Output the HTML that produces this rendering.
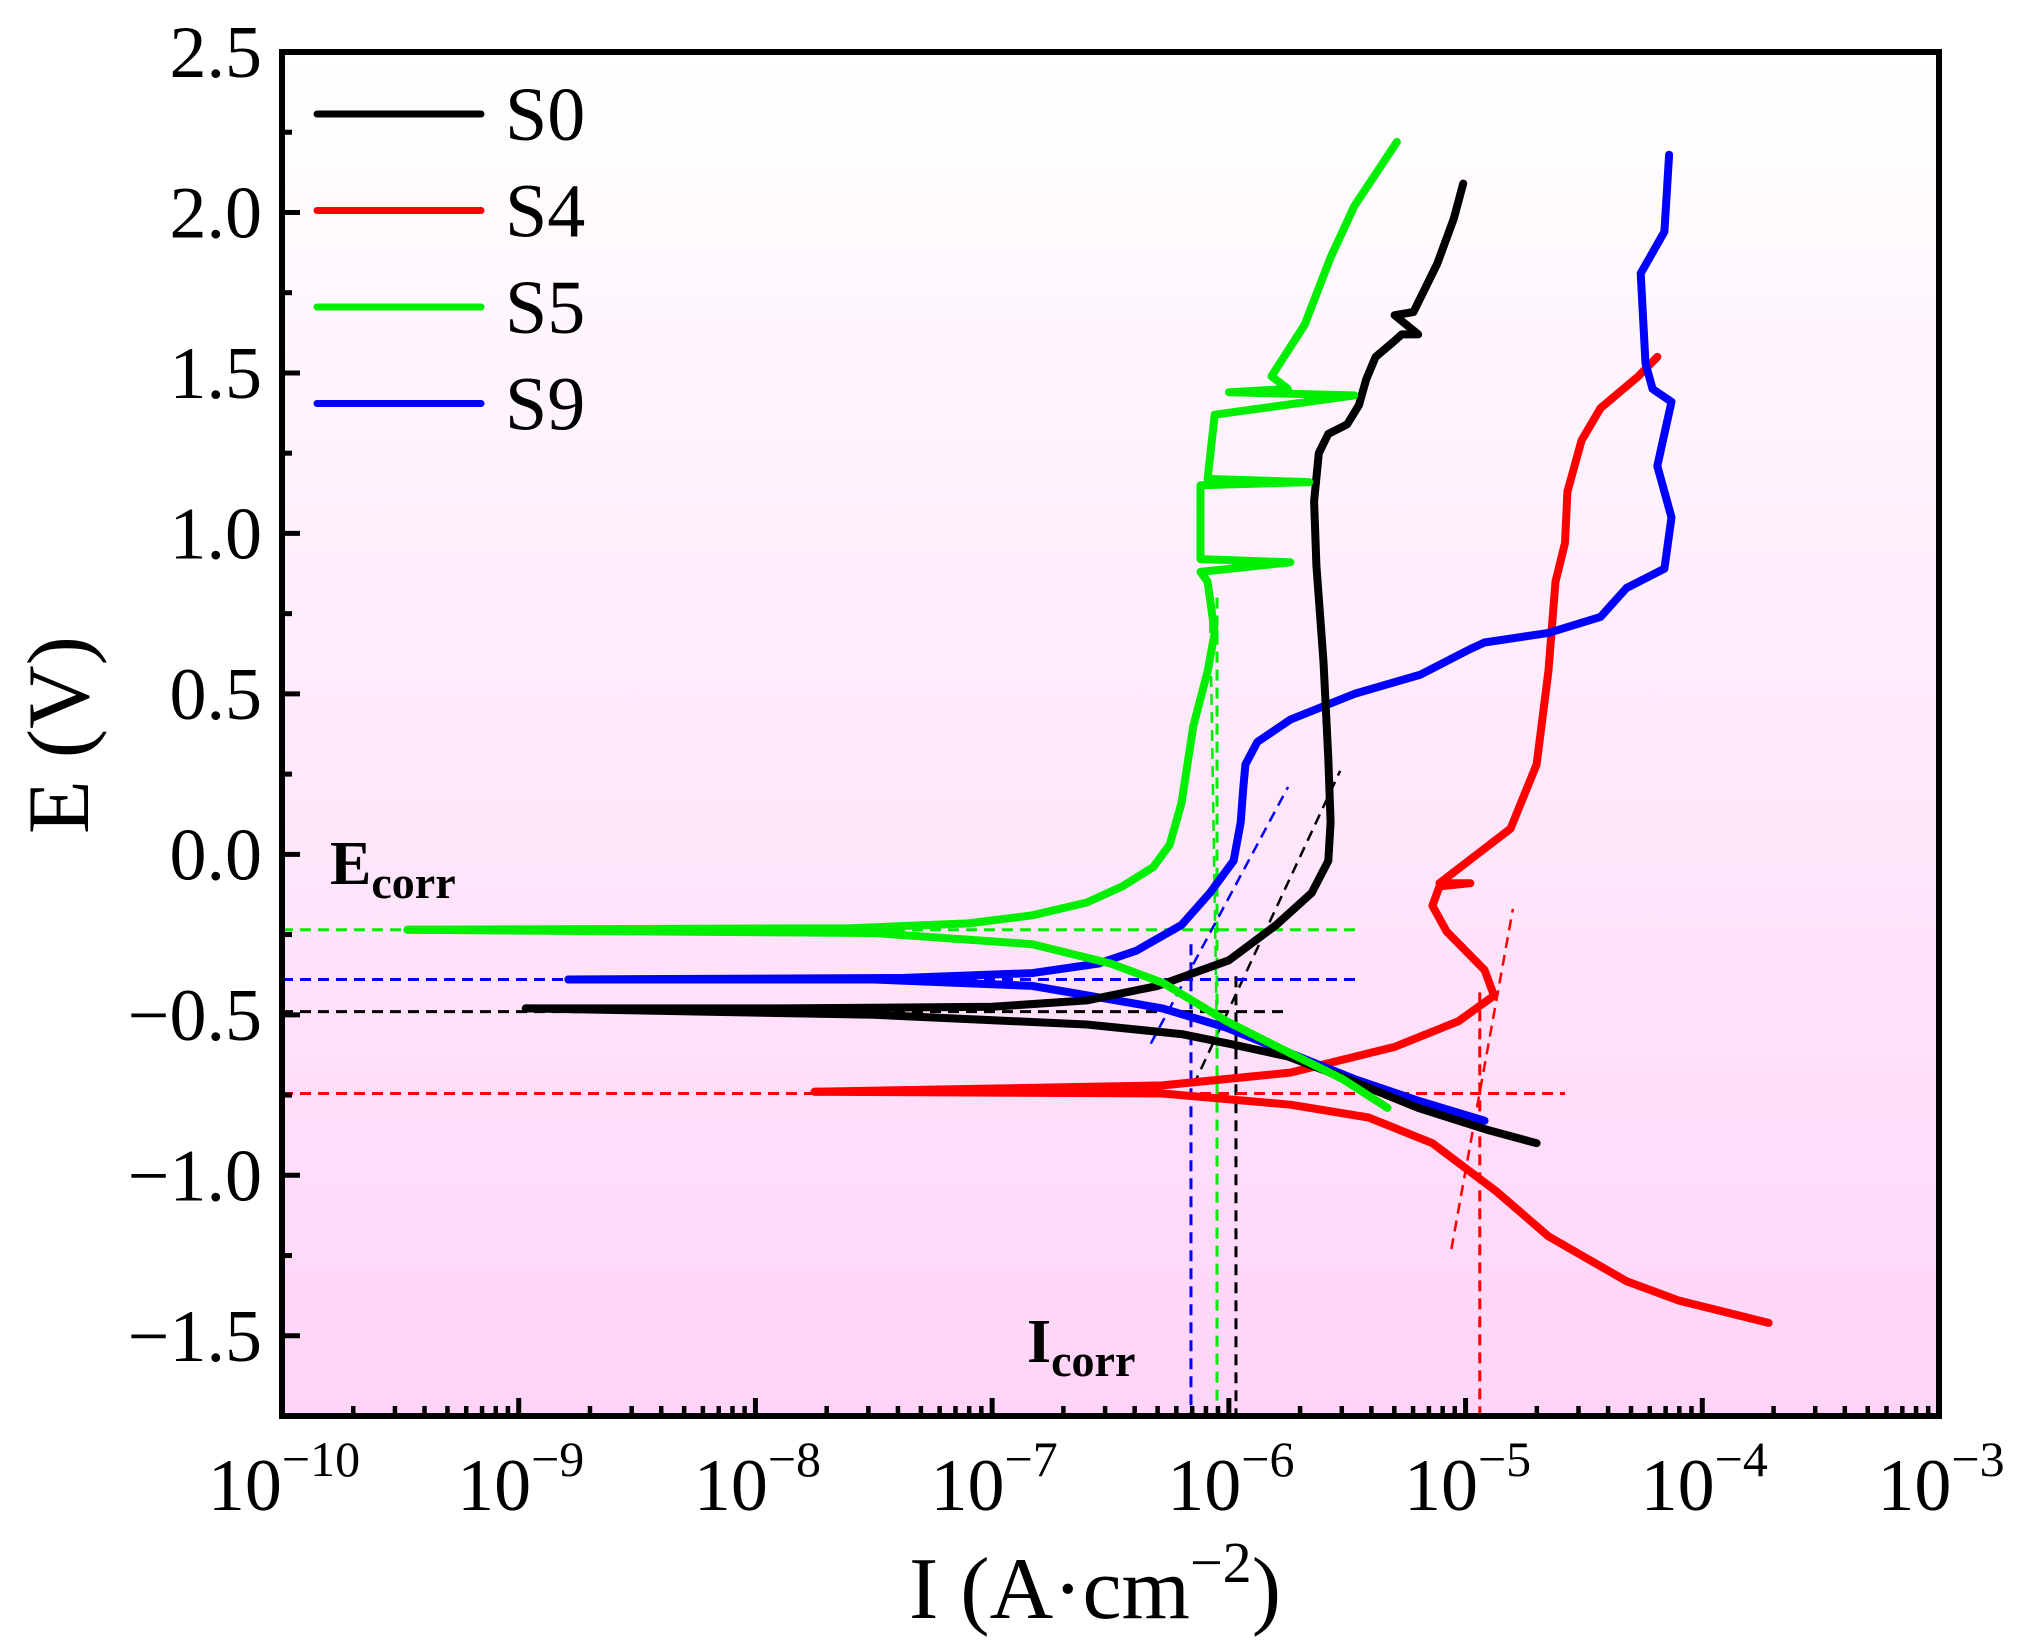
<!DOCTYPE html>
<html><head><meta charset="utf-8"><style>
html,body{margin:0;padding:0;background:#fff;}
svg{display:block;font-family:"Liberation Serif",serif;}
</style></head><body>
<svg id="chart" width="2025" height="1642" viewBox="0 0 2025 1642" xmlns="http://www.w3.org/2000/svg">
<defs><linearGradient id="bg" x1="0" y1="0" x2="0" y2="1"><stop offset="0" stop-color="#ffffff"/><stop offset="1" stop-color="#ffd4f8"/></linearGradient></defs>
<rect x="282" y="52" width="1657" height="1364" fill="url(#bg)"/>
<g id="series"></g>
<rect x="282" y="52" width="1657" height="1364" fill="none" stroke="#000" stroke-width="6"/>
<g id="ticks"></g>
<text transform="translate(88,735) rotate(-90)" text-anchor="middle" font-size="88">E (V)</text>
<text x="1095" y="1618" text-anchor="middle" font-size="88">I (A·cm<tspan font-size="58" dy="-36">−2</tspan><tspan dy="36">)</tspan></text>
<text x="330" y="884" font-size="62" font-weight="bold">E<tspan font-size="46" dy="14">corr</tspan></text>
<text x="1027" y="1362" font-size="62" font-weight="bold">I<tspan font-size="46" dy="14">corr</tspan></text>
<g id="legend"></g>
</svg>
<script>
const NS="http://www.w3.org/2000/svg";
const xTickExps=[-10,-9,-8,-7,-6,-5,-4,-3];
const yTickVals=[2.5,2.0,1.5,1.0,0.5,0.0,-0.5,-1.0,-1.5];
const yTickLabels=["2.5","2.0","1.5","1.0","0.5","0.0","\u22120.5","\u22121.0","\u22121.5"];
const seriesNames=["S0","S4","S5","S9"];
const seriesColors=["#000000","#ff0000","#00ee00","#0000ff"];
const s0AnodicLogI=[-8.97,-7.9,-7.0,-6.6,-6.3,-6.0,-5.8,-5.65,-5.58,-5.57,-5.58,-5.6,-5.63,-5.64,-5.62,-5.58,-5.5,-5.45,-5.42,-5.38,-5.3,-5.27,-5.2,-5.3,-5.22,-5.12,-5.05,-5.01];
const s0AnodicE=[-0.48,-0.48,-0.475,-0.455,-0.41,-0.33,-0.22,-0.12,-0.02,0.1,0.3,0.6,0.9,1.1,1.25,1.31,1.34,1.4,1.48,1.55,1.6,1.62,1.62,1.68,1.69,1.84,1.98,2.09];
const s0CathLogI=[-8.97,-7.5,-6.6,-6.2,-6.0,-5.75,-5.5,-5.2,-4.9,-4.7];
const s0CathE=[-0.48,-0.5,-0.53,-0.56,-0.59,-0.63,-0.7,-0.79,-0.86,-0.9];
const s4AnodicLogI=[-7.75,-6.28,-5.74,-5.3,-5.03,-4.88,-4.92,-5.08,-5.14,-5.11,-4.98,-5.11,-4.81,-4.7,-4.65,-4.62,-4.58,-4.57,-4.51,-4.43,-4.27,-4.19];
const s4AnodicE=[-0.74,-0.72,-0.68,-0.6,-0.52,-0.44,-0.36,-0.24,-0.16,-0.1,-0.09,-0.09,0.08,0.28,0.57,0.85,0.97,1.13,1.29,1.39,1.49,1.55];
const s4CathLogI=[-7.75,-6.28,-5.74,-5.41,-5.14,-4.87,-4.65,-4.32,-4.1,-3.72];
const s4CathE=[-0.74,-0.745,-0.78,-0.82,-0.9,-1.05,-1.19,-1.33,-1.39,-1.46];
const s5AnodicLogI=[-9.47,-7.6,-7.1,-6.83,-6.6,-6.45,-6.32,-6.25,-6.2,-6.15,-6.09,-6.06,-6.09,-6.12,-5.74,-6.12,-6.12,-5.66,-6.09,-6.06,-5.47,-6.0,-5.75,-5.82,-5.68,-5.57,-5.47,-5.29];
const s5AnodicE=[-0.235,-0.23,-0.215,-0.19,-0.15,-0.1,-0.04,0.03,0.16,0.4,0.57,0.69,0.85,0.88,0.91,0.92,1.15,1.16,1.17,1.37,1.43,1.44,1.45,1.49,1.65,1.86,2.02,2.22];
const s5CathLogI=[-9.47,-7.5,-6.83,-6.5,-6.28,-6.01,-5.74,-5.52,-5.33];
const s5CathE=[-0.235,-0.245,-0.28,-0.34,-0.4,-0.52,-0.62,-0.7,-0.79];
const s9AnodicLogI=[-8.79,-7.37,-6.83,-6.55,-6.39,-6.2,-6.08,-5.98,-5.95,-5.94,-5.93,-5.88,-5.8,-5.74,-5.47,-5.19,-4.98,-4.92,-4.65,-4.43,-4.32,-4.16,-4.13,-4.19,-4.13,-4.21,-4.24,-4.26,-4.16,-4.14];
const s9AnodicE=[-0.39,-0.385,-0.37,-0.34,-0.3,-0.22,-0.12,-0.02,0.1,0.2,0.28,0.35,0.39,0.42,0.5,0.56,0.64,0.66,0.69,0.74,0.83,0.89,1.05,1.21,1.41,1.45,1.53,1.81,1.94,2.18];
const s9CathLogI=[-8.79,-7.5,-6.83,-6.28,-6.01,-5.74,-5.47,-5.19,-4.92];
const s9CathE=[-0.39,-0.39,-0.41,-0.48,-0.54,-0.62,-0.7,-0.77,-0.83];
const ecorrE=[-0.49,-0.745,-0.235,-0.39];
const ecorrEndLogI=[-5.75,-4.58,-5.44,-5.45];
const icorrLogI=[-5.97,-4.94,-6.05,-6.16];
const icorrTopE=[-0.38,-0.43,0.8,-0.28];
const tafelLogI1=[-6.15,-5.06,-6.05,-6.33];
const tafelE1=[-0.72,-1.23,-0.6,-0.59];
const tafelLogI2=[-5.53,-4.8,-6.08,-5.75];
const tafelE2=[0.26,-0.17,0.8,0.21];

const X0=282,X1=1939,Y0=52,Y1=1416;
const xmin=-10,xmax=-3,ymin=-1.75,ymax=2.5;
function sx(l){return X0+(l-xmin)/(xmax-xmin)*(X1-X0);}
function sy(e){return Y0+(ymax-e)/(ymax-ymin)*(Y1-Y0);}
function mk(tag,attrs,parent){const el=document.createElementNS(NS,tag);for(const k in attrs)el.setAttribute(k,attrs[k]);parent.appendChild(el);return el;}
const series=document.getElementById('series'),ticks=document.getElementById('ticks'),legend=document.getElementById('legend');

for(let i=0;i<4;i++){
  let l=mk('line',{x1:X0,y1:sy(ecorrE[i]),x2:sx(ecorrEndLogI[i]),y2:sy(ecorrE[i]),stroke:seriesColors[i],'stroke-width':3,'stroke-dasharray':'11,7'},series);
  
  
  let v=mk('line',{x1:sx(icorrLogI[i]),y1:sy(icorrTopE[i]),x2:sx(icorrLogI[i]),y2:Y1,stroke:seriesColors[i],'stroke-width':3,'stroke-dasharray':'11,7'},series);
  
  
  let t=mk('line',{x1:sx(tafelLogI1[i]),y1:sy(tafelE1[i]),x2:sx(tafelLogI2[i]),y2:sy(tafelE2[i]),stroke:seriesColors[i],'stroke-width':2.5,'stroke-dasharray':'11,7'},series);
  
  
}
const branches=[[s0AnodicLogI,s0AnodicE,s0CathLogI,s0CathE],[s4AnodicLogI,s4AnodicE,s4CathLogI,s4CathE],[s5AnodicLogI,s5AnodicE,s5CathLogI,s5CathE],[s9AnodicLogI,s9AnodicE,s9CathLogI,s9CathE]];
const order=[1,3,0,2];
for(const i of order){
  const b=branches[i];
  for(let k=0;k<2;k++){
    const xs=b[k*2],ys=b[k*2+1];
    let d=xs.map((v,j)=>(j?'L':'M')+sx(v).toFixed(1)+','+sy(ys[j]).toFixed(1)).join(' ');
    let p=mk('path',{d:d,fill:'none',stroke:seriesColors[i],'stroke-width':8,'stroke-linejoin':'round','stroke-linecap':'round'},series);
    
    
  }
}
for(let v=-1.75;v<=2.5001;v+=0.25){
  const major=Math.abs(v*2-Math.round(v*2))<1e-6;
  mk('line',{x1:X0,y1:sy(v),x2:X0+(major?18:10),y2:sy(v),stroke:'#000','stroke-width':5},ticks);
}
yTickVals.forEach((v,i)=>{
  let t=mk('text',{x:262,y:sy(v)+25,'text-anchor':'end','font-size':74},ticks);
  t.textContent=yTickLabels[i];
  
  
});
xTickExps.forEach((e,i)=>{
  const x=sx(e);
  mk('line',{x1:x,y1:Y1,x2:x,y2:Y1-18,stroke:'#000','stroke-width':5},ticks);
  if(e<xmax){for(let m=2;m<=9;m++){const xm=sx(e+Math.log10(m));mk('line',{x1:xm,y1:Y1,x2:xm,y2:Y1-10,stroke:'#000','stroke-width':4.5},ticks);}}
  let t=mk('text',{x:x+2,y:1510,'text-anchor':'middle','font-size':74},ticks);
  
  
  t.appendChild(document.createTextNode('10'));
  let s=mk('tspan',{'font-size':50,dy:-34},t);
  s.textContent='\u2212'+Math.abs(e);
});
seriesNames.forEach((n,i)=>{
  const y=114+i*96.5;
  let l=mk('line',{x1:317,y1:y,x2:481,y2:y,stroke:seriesColors[i],'stroke-width':7,'stroke-linecap':'round'},legend);
  
  
  let t=mk('text',{x:505,y:y+26,'font-size':76},legend);
  t.textContent=n;
  
  
});
</script>
</body></html>
